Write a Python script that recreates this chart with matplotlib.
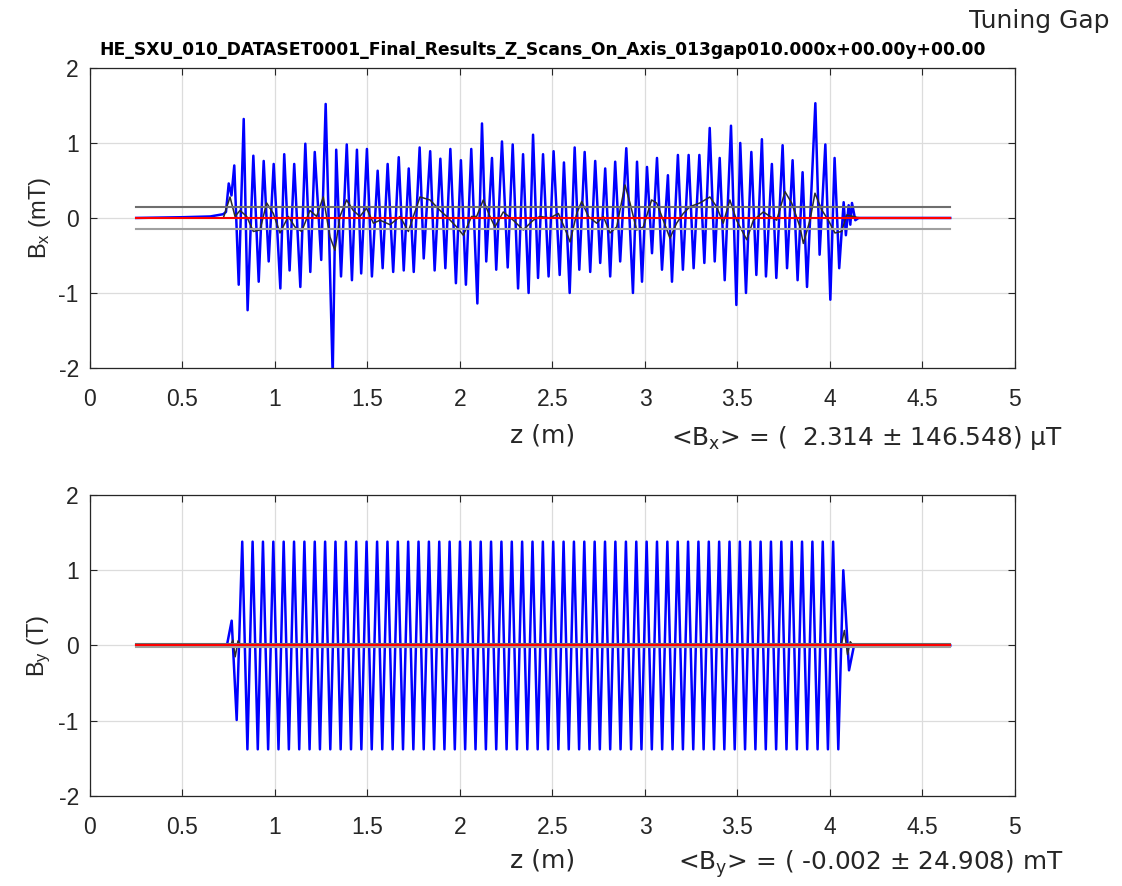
import matplotlib
matplotlib.use("Agg")
import numpy as np
import matplotlib.pyplot as plt

plt.rcParams['font.family'] = ['Liberation Sans', 'DejaVu Sans']
plt.rcParams['mathtext.default'] = 'regular'
plt.rcParams['axes.unicode_minus'] = False

bx_z = [0.25, 0.50, 0.65, 0.72, 0.735,
        0.750, 0.765, 0.780, 0.804, 0.831, 0.852, 0.883, 0.912, 0.939, 0.966,
        0.993, 1.029, 1.050, 1.079, 1.104, 1.137, 1.164, 1.191, 1.215, 1.250,
        1.274, 1.312, 1.331, 1.357, 1.388, 1.416, 1.443, 1.466, 1.497, 1.524,
        1.555, 1.582, 1.609, 1.639, 1.669, 1.696, 1.723, 1.750, 1.782, 1.804,
        1.839, 1.863, 1.894, 1.921, 1.948, 1.978, 2.005, 2.032, 2.061, 2.094,
        2.119, 2.142, 2.173, 2.196, 2.227, 2.258, 2.285, 2.314, 2.341, 2.371,
        2.395, 2.422, 2.449, 2.479, 2.506, 2.539, 2.562, 2.593, 2.620, 2.645,
        2.674, 2.704, 2.731, 2.758, 2.785, 2.812, 2.839, 2.866, 2.899, 2.935,
        2.957, 2.984, 3.011, 3.038, 3.065, 3.092, 3.124, 3.146, 3.178, 3.205,
        3.236, 3.263, 3.294, 3.321, 3.350, 3.377, 3.404, 3.431, 3.465, 3.494,
        3.515, 3.546, 3.575, 3.602, 3.632, 3.654, 3.686, 3.710, 3.744, 3.768,
        3.798, 3.825, 3.852, 3.876, 3.921, 3.944, 3.975, 4.002, 4.025, 4.050,
        4.074, 4.086, 4.101, 4.110, 4.119, 4.137, 4.155, 4.65]
bx_val = [0.0, 0.01, 0.02, 0.05, 0.08,
          0.46, 0.30, 0.70, -0.89, 1.32, -1.23, 0.83, -0.85, 0.76, -0.58,
          0.72, -0.94, 0.85, -0.70, 0.72, -0.92, 0.99, -0.72, 0.88, -0.56,
          1.52, -2.10, 0.91, -0.78, 0.98, -0.83, 0.91, -0.74, 0.92, -0.78,
          0.63, -0.67, 0.72, -0.72, 0.81, -0.70, 0.66, -0.72, 0.94, -0.54,
          0.89, -0.70, 0.79, -0.67, 0.92, -0.87, 0.77, -0.89, 0.92, -1.14,
          1.26, -0.58, 0.80, -0.69, 1.02, -0.66, 0.98, -0.94, 0.85, -1.00,
          1.11, -0.80, 0.85, -0.78, 0.89, -0.76, 0.74, -1.00, 0.94, -0.69,
          0.88, -0.72, 0.76, -0.60, 0.66, -0.78, 0.75, -0.58, 0.93, -1.00,
          0.75, -0.85, 0.68, -0.47, 0.80, -0.69, 0.57, -0.85, 0.84, -0.69,
          0.84, -0.67, 0.84, -0.60, 1.20, -0.58, 0.80, -0.83, 1.23, -1.16,
          1.00, -1.00, 0.88, -0.76, 1.05, -0.78, 0.72, -0.80, 0.97, -0.67,
          0.77, -0.83, 0.61, -0.92, 1.53, -0.49, 0.98, -1.09, 0.80, -0.67,
          0.21, -0.23, 0.17, -0.09, 0.20, -0.03, 0.0, 0.0]

# smoothed Bx (black trace)
bx_smooth_z = [0.25, 0.721, 0.757, 0.784, 0.811, 0.847, 0.883, 0.919, 0.955,
               0.991, 1.027, 1.072, 1.108, 1.144, 1.189, 1.225, 1.261, 1.297,
               1.324, 1.351, 1.387, 1.423, 1.459, 1.495, 1.532, 1.568, 1.622,
               1.676, 1.721, 1.748, 1.784, 1.838, 1.892, 1.928, 1.982, 2.018,
               2.063, 2.090, 2.126, 2.162, 2.189, 2.234, 2.288, 2.342, 2.396,
               2.432, 2.486, 2.532, 2.577, 2.595, 2.631, 2.658, 2.694, 2.739,
               2.775, 2.811, 2.847, 2.892, 2.919, 2.955, 2.991, 3.036, 3.063,
               3.099, 3.135, 3.171, 3.207, 3.243, 3.297, 3.351, 3.387, 3.423,
               3.459, 3.495, 3.550, 3.586, 3.640, 3.676, 3.712, 3.757, 3.793,
               3.838, 3.856, 3.892, 3.919, 3.955, 3.991, 4.027, 4.063, 4.090,
               4.126, 4.162, 4.65]
bx_smooth_val = [0.0, 0.0, 0.28, 0.02, 0.10, 0.02, -0.18, -0.16, 0.20,
                 0.06, -0.20, 0.02, -0.12, -0.18, 0.10, 0.02, 0.28, -0.25,
                 -0.43, 0.02, 0.24, 0.10, 0.02, 0.13, -0.07, -0.03, -0.09,
                 0.02, -0.18, 0.02, 0.28, 0.24, 0.10, 0.02, -0.12, -0.23,
                 0.02, 0.02, 0.24, 0.02, -0.12, 0.08, -0.03, -0.16, -0.03,
                 0.02, 0.0, 0.06, -0.20, -0.32, 0.06, 0.22, 0.02, -0.07,
                 0.02, -0.20, -0.12, 0.44, 0.20, -0.16, -0.12, 0.24, 0.20,
                 -0.03, -0.27, -0.07, 0.06, 0.15, 0.20, 0.28, 0.15, -0.07,
                 0.24, -0.03, -0.29, -0.03, 0.08, 0.02, -0.03, 0.35, 0.20,
                 -0.12, -0.34, -0.03, 0.33, 0.11, -0.03, -0.20, -0.18, 0.04,
                 0.02, 0.0, 0.0]

bx_mean = 0.002314   # mT
bx_std = 0.146548    # mT

# ---- By (T): undulator field extrema ----
by_peak_z = [0.823, 0.879, 0.935, 0.991, 1.047, 1.103, 1.159, 1.215, 1.271, 1.327,
             1.383, 1.439, 1.495, 1.552, 1.608, 1.664, 1.720, 1.776, 1.832, 1.888,
             1.944, 2.000, 2.056, 2.112, 2.168, 2.224, 2.280, 2.336, 2.392, 2.448,
             2.504, 2.560, 2.616, 2.672, 2.728, 2.784, 2.840, 2.897, 2.953, 3.009,
             3.065, 3.121, 3.177, 3.233, 3.289, 3.345, 3.401, 3.457, 3.513, 3.569,
             3.625, 3.681, 3.737, 3.793, 3.849, 3.905, 3.961, 4.017]
by_trough_z = [0.851, 0.907, 0.963, 1.019, 1.075, 1.131, 1.187, 1.243, 1.299, 1.355,
               1.411, 1.467, 1.523, 1.580, 1.636, 1.692, 1.748, 1.804, 1.860, 1.916,
               1.972, 2.028, 2.084, 2.140, 2.196, 2.252, 2.308, 2.364, 2.420, 2.476,
               2.532, 2.588, 2.644, 2.700, 2.756, 2.812, 2.868, 2.925, 2.981, 3.037,
               3.093, 3.149, 3.205, 3.261, 3.317, 3.373, 3.429, 3.485, 3.541, 3.597,
               3.653, 3.709, 3.765, 3.821, 3.877, 3.933, 3.989, 4.045]
by_peak = 1.38
by_trough = -1.38
by_start_z = [0.25, 0.74, 0.766, 0.793]
by_start_val = [0.0, 0.0, 0.33, -0.99]
by_end_z = [4.072, 4.103, 4.13, 4.65]
by_end_val = [1.0, -0.33, 0.0, 0.0]

by_smooth_z = [0.25, 0.76, 0.772, 0.785, 0.80, 0.815, 4.06, 4.078, 4.095, 4.11, 4.125, 4.65]
by_smooth_val = [0.0, 0.0, 0.07, -0.15, 0.06, 0.0, 0.0, 0.20, -0.12, 0.05, 0.0, 0.0]

by_mean = -0.000002  # T
by_std = 0.024908    # T

z_span = [0.25, 4.65]
x_ticks = [0, 0.5, 1, 1.5, 2, 2.5, 3, 3.5, 4, 4.5, 5]
x_ticklabels = ['0', '0.5', '1', '1.5', '2', '2.5', '3', '3.5', '4', '4.5', '5']
y_ticks = [-2, -1, 0, 1, 2]

# build By trace in order
by_z = list(by_start_z)
by_v = list(by_start_val)
for zp, zt in zip(by_peak_z, by_trough_z):
    by_z += [zp, zt]
    by_v += [by_peak, by_trough]
by_z += by_end_z
by_v += by_end_val

FS = 16.5
TXT = '#262626'
WIDE = ['DejaVu Sans']

fig = plt.figure(figsize=(11.22, 8.86), dpi=100)
ax1 = fig.add_axes([0.0802, 0.5847, 0.8244, 0.3386])
ax2 = fig.add_axes([0.0802, 0.1016, 0.8244, 0.3397])


def draw(ax, z, v, zs, vs, mean, std, label_y):
    ax.plot(z, v, color='#0000ff', lw=1.8, zorder=2)
    ax.plot(zs, vs, color='#2b2b2b', lw=1.1, zorder=3)
    ax.plot(z_span, [mean + std] * 2, color='#6e6e6e', lw=1.5, zorder=4)
    ax.plot(z_span, [mean - std] * 2, color='#a0a0a0', lw=1.5, zorder=4)
    ax.plot(z_span, [mean] * 2, color='#ff0000', lw=1.5, zorder=5)
    ax.set_xlim(0, 5)
    ax.set_ylim(-2, 2)
    ax.set_xticks(x_ticks)
    ax.set_xticklabels(x_ticklabels)
    ax.set_yticks(y_ticks)
    ax.grid(True, color='#dcdcdc', lw=0.9)
    ax.set_axisbelow(True)
    ax.tick_params(direction='in', length=5, top=True, right=True,
                   labelsize=FS, colors=TXT)
    ax.tick_params(axis='x', pad=14.5)
    ax.tick_params(axis='y', pad=8)
    for s in ax.spines.values():
        s.set_color(TXT)
        s.set_linewidth(0.9)
    ax.set_xlabel('z (m)', fontsize=18, color=TXT, family=WIDE)
    ax.xaxis.set_label_coords(0.489, label_y)


draw(ax1, bx_z, bx_val, bx_smooth_z, bx_smooth_val, bx_mean, bx_std, -0.186)
draw(ax2, by_z, by_v, by_smooth_z, by_smooth_val, by_mean, by_std, -0.174)

ax1.set_ylabel('B$_x$ (mT)', fontsize=17, color=TXT)
ax2.set_ylabel('B$_y$ (T)', fontsize=17, color=TXT)

ax1.set_title('HE_SXU_010_DATASET0001_Final_Results_Z_Scans_On_Axis_013gap010.000x+00.00y+00.00',
              fontsize=12.3, fontweight='bold', family=WIDE, pad=9)
ax1.title.set_x(0.489)
fig.text(0.989, 0.976, 'Tuning Gap', ha='right', va='center', fontsize=18,
         color=TXT, family=WIDE)

ax1.text(1.052, -0.258, '<B$_x$> = (  %.3f ± %.3f) μT' % (bx_mean * 1000, bx_std * 1000),
         transform=ax1.transAxes, ha='right', va='baseline', fontsize=17.8,
         color=TXT, family=WIDE)
ax2.text(1.052, -0.245, '<B$_y$> = ( %.3f ± %.3f) mT' % (by_mean * 1000, by_std * 1000),
         transform=ax2.transAxes, ha='right', va='baseline', fontsize=17.8,
         color=TXT, family=WIDE)

fig.savefig('out.png', dpi=100)
